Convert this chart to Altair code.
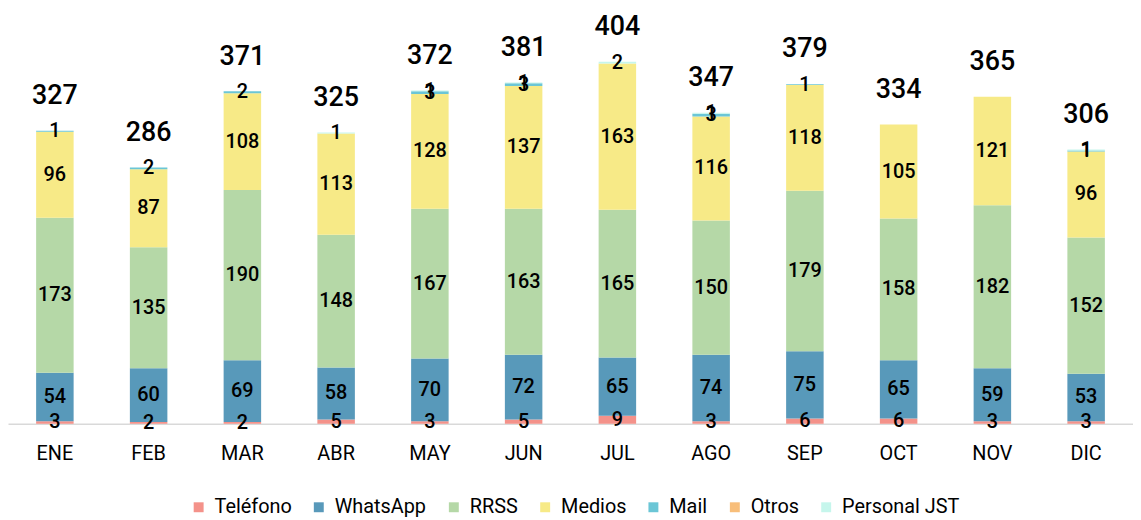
import altair as alt
import pandas as pd

months = ["ENE", "FEB", "MAR", "ABR", "MAY", "JUN", "JUL", "AGO", "SEP", "OCT", "NOV", "DIC"]
series_names = ["Teléfono", "WhatsApp", "RRSS", "Medios", "Mail", "Otros", "Personal JST"]
series_colors = ["#F4928A", "#5899BA", "#B5D8A7", "#F7EA87", "#6BC6D6", "#F8BE7A", "#C6F6EC"]

telefono = [3, 2, 2, 5, 3, 5, 9, 3, 6, 6, 3, 3]
whatsapp = [54, 60, 69, 58, 70, 72, 65, 74, 75, 65, 59, 53]
rrss = [173, 135, 190, 148, 167, 163, 165, 150, 179, 158, 182, 152]
medios = [96, 87, 108, 113, 128, 137, 163, 116, 118, 105, 121, 96]
mail = [1, 2, 2, 0, 3, 3, 0, 3, 1, 0, 0, 1]
otros = [0, 0, 0, 0, 0, 0, 0, 0, 0, 0, 0, 0]
personal_jst = [0, 0, 0, 1, 1, 1, 2, 1, 0, 0, 0, 1]
totals = [327, 286, 371, 325, 372, 381, 404, 347, 379, 334, 365, 306]

all_series = [telefono, whatsapp, rrss, medios, mail, otros, personal_jst]
rows = []
for si, (name, vals) in enumerate(zip(series_names, all_series)):
    for m, v in zip(months, vals):
        rows.append({"mes": m, "serie": name, "orden": si, "valor": v})
df = pd.DataFrame(rows)
tot_df = pd.DataFrame({"mes": months, "total": totals})

FONT = "Roboto"

x_enc = alt.X(
    "mes:N",
    sort=months,
    scale=alt.Scale(paddingInner=0.6, paddingOuter=0.3),
    axis=alt.Axis(
        title=None, labelAngle=0, ticks=False, domainColor="#d9d9d9", domainWidth=1.5,
        labelFontSize=20, labelPadding=20, labelColor="#000000", labelFont=FONT, grid=False,
    ),
)
yscale = alt.Scale(domain=[0, 462], nice=False)

base = alt.Chart(df).transform_stack(
    stack="valor", groupby=["mes"], as_=["y0", "y1"],
    sort=[alt.SortField("orden", order="ascending")],
).transform_calculate(mid="(datum.y0 + datum.y1) / 2")

bars = base.mark_bar().encode(
    x=x_enc,
    y=alt.Y("y0:Q", scale=yscale, axis=None),
    y2="y1:Q",
    color=alt.Color(
        "serie:N",
        scale=alt.Scale(domain=series_names, range=series_colors),
        legend=alt.Legend(
            title=None, orient="none", direction="horizontal", legendX=182, legendY=491,
            symbolType="square", symbolSize=100, symbolStrokeWidth=0, labelFontSize=20,
            labelFont=FONT, labelColor="#000000", columnPadding=17, labelOffset=6, padding=0,
        ),
    ),
    order=alt.Order("orden:Q"),
)

labels = base.transform_filter("datum.valor > 0").mark_text(
    font=FONT, fontSize=20, fontWeight=500, color="#000000", baseline="middle"
).encode(
    x=x_enc,
    y=alt.Y("mid:Q", scale=yscale),
    text="valor:Q",
)

tot_text = alt.Chart(tot_df).mark_text(
    font=FONT, fontSize=27, fontWeight=500, color="#000000", baseline="middle", dy=-35
).encode(
    x=x_enc,
    y=alt.Y("total:Q", scale=yscale),
    text="total:Q",
)

chart = alt.layer(bars, labels, tot_text).properties(
    width=1133, height=417, padding=0
).configure_view(stroke=None)

chart.save("out.html", embed_options={"renderer": "svg", "actions": False})
